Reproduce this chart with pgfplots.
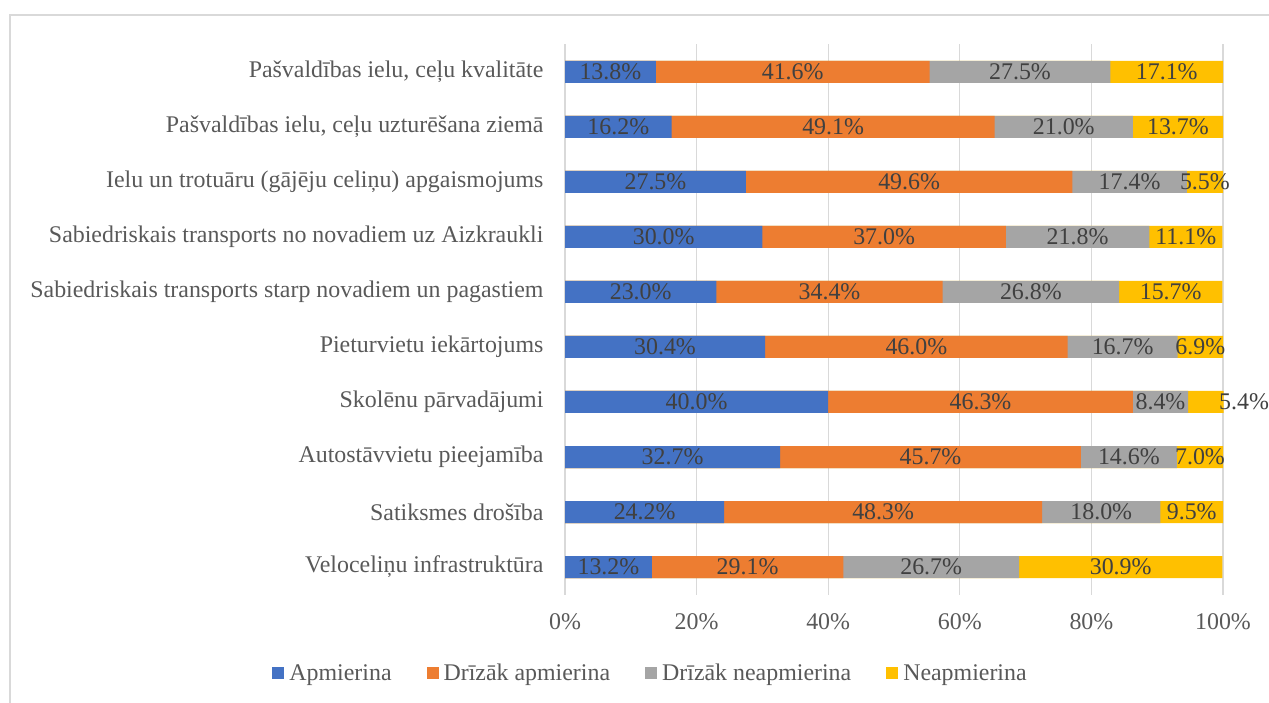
\documentclass[border=0pt]{standalone}
\usepackage{pgfplots}
\usepackage{pgfplotstable}
\pgfplotsset{compat=1.18}
\usepackage{fontspec}
\setmainfont{Liberation Serif}
\definecolor{cA}{HTML}{4472C4}
\definecolor{cB}{HTML}{ED7D31}
\definecolor{cC}{HTML}{A5A5A5}
\definecolor{cD}{HTML}{FFC000}
\definecolor{txt}{HTML}{595959}
\definecolor{lbl}{HTML}{404040}
\definecolor{grd}{HTML}{D9D9D9}
\newcommand{\cf}{\fontsize{23.9pt}{28pt}\selectfont}
% pos: 0 = bottom row; a..d = Apmierina, Drizak apmierina, Drizak neapmierina, Neapmierina
% off: manual shift of the last label (as in the reference)
\pgfplotstableread{
pos a    b    c    d    off
0   13.2 29.1 26.7 30.9 0
1   24.2 48.3 18.0 9.5  0
2   32.7 45.7 14.6 7.0  0
3   40.0 46.3 8.4  5.4  5.8
4   30.4 46.0 16.7 6.9  0
5   23.0 34.4 26.8 15.7 0
6   30.0 37.0 21.8 11.1 0
7   27.5 49.6 17.4 5.5  0
8   16.2 49.1 21.0 13.7 0
9   13.8 41.6 27.5 17.1 0
}\data
\pgfplotstablecreatecol[create col/expr={\thisrow{a}+\thisrow{b}}]{ab}\data
\pgfplotstablecreatecol[create col/expr={\thisrow{ab}+\thisrow{c}}]{abc}\data
\pgfplotstablecreatecol[create col/expr={\thisrow{abc}+\thisrow{d}}]{abcd}\data
\pgfplotstablecreatecol[create col/expr={\thisrow{a}/2}]{ma}\data
\pgfplotstablecreatecol[create col/expr={\thisrow{a}+\thisrow{b}/2}]{mb}\data
\pgfplotstablecreatecol[create col/expr={\thisrow{ab}+\thisrow{c}/2}]{mc}\data
\pgfplotstablecreatecol[create col/expr={\thisrow{abc}+\thisrow{d}/2+\thisrow{off}}]{md}\data
\begin{document}
\begin{tikzpicture}[x=1pt,y=1pt,font=\cf]
\useasboundingbox (0,0) rectangle (1269,702);
\draw[grd,line width=1.3pt] (10,-5) -- (10,687) -- (1280,687);
\begin{axis}[
  at={(565pt,107.5pt)}, anchor=south west,
  scale only axis, width=658pt, height=550pt,
  clip=false,
  xmin=0, xmax=100, ymin=-0.5, ymax=9.5,
  ytick={0,...,9},
  yticklabels={Veloceliņu infrastruktūra,Satiksmes drošība,Autostāvvietu pieejamība,Skolēnu pārvadājumi,Pieturvietu iekārtojums,Sabiedriskais transports starp novadiem un pagastiem,Sabiedriskais transports no novadiem uz Aizkraukli,Ielu un trotuāru (gājēju celiņu) apgaismojums,{Pašvaldības ielu, ceļu uzturēšana ziemā},{Pašvaldības ielu, ceļu kvalitāte}},
  xtick={0,20,40,60,80,100},
  xticklabels={0\%,20\%,40\%,60\%,80\%,100\%},
  ticklabel style={font=\cf, text=txt},
  yticklabel style={xshift=-18pt},
  xticklabel style={yshift=-16pt},
  major tick length=0pt,
  axis line style={draw=none},
  xmajorgrids, major grid style={draw=grd, line width=1.3pt},
  nodes near coords align={center},
  legend columns=4,
  legend style={at={(0.13,-0.143)}, anchor=center, draw=none, font=\cf, text=txt,
    /tikz/every odd column/.append style={column sep=3pt},
    /tikz/every even column/.append style={column sep=33pt}},
  legend image code/.code={\fill[#1] (0pt,-6pt) rectangle (12pt,6pt);},
  lab/.style={draw=none, mark=none, forget plot, point meta=explicit symbolic,
    nodes near coords={\pgfplotspointmeta\%},
    every node near coord/.style={font=\cf, text=lbl, anchor=center, inner sep=0pt}},
  bars/.style={xbar, bar width=22pt, bar shift=0pt, draw=none, forget plot},
]
\addlegendimage{fill=cA, draw=none}
\addlegendimage{fill=cB, draw=none}
\addlegendimage{fill=cC, draw=none}
\addlegendimage{fill=cD, draw=none}
\addplot[bars, fill=cD] table[x=abcd, y=pos] {\data};
\addplot[bars, fill=cC] table[x=abc, y=pos] {\data};
\addplot[bars, fill=cB] table[x=ab, y=pos] {\data};
\addplot[bars, fill=cA] table[x=a, y=pos] {\data};
\addplot[lab] table[x=ma, y=pos, meta=a] {\data};
\addplot[lab] table[x=mb, y=pos, meta=b] {\data};
\addplot[lab] table[x=mc, y=pos, meta=c] {\data};
\addplot[lab] table[x=md, y=pos, meta=d] {\data};
\legend{Apmierina,Drīzāk apmierina,Drīzāk neapmierina,Neapmierina}
\end{axis}
\end{tikzpicture}
\end{document}
